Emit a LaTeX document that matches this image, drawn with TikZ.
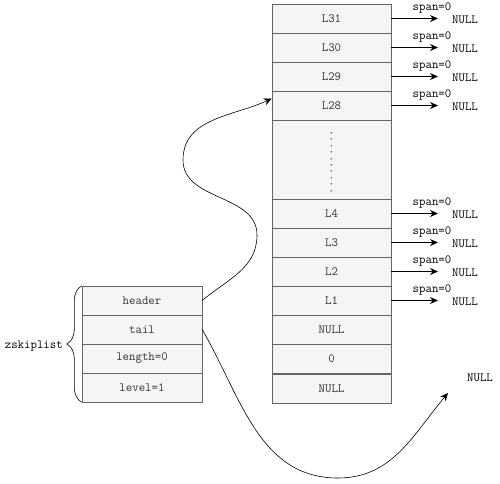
\documentclass[tikz,border=0pt]{standalone}
\usepackage{fontspec}
\usetikzlibrary{arrows.meta, positioning, decorations.pathreplacing}
\definecolor{cellfill}{HTML}{F5F5F5}
\definecolor{cellline}{HTML}{666666}
\definecolor{celltext}{HTML}{333333}

\begin{document}
\begin{tikzpicture}[x=1pt, y=-1pt,
  cell/.style={draw=cellline, fill=cellfill, minimum width=119pt,
    minimum height=29pt, inner sep=0pt, text=celltext,
    font=\fontsize{12.5}{14}\selectfont\ttfamily},
  lbl/.style={inner sep=0pt, font=\fontsize{12.5}{14}\selectfont\ttfamily},
  arr/.style={-{Stealth[length=8pt, width=7pt]}, line width=0.8pt},
  link/.style={arr, line width=0.6pt}
]
  \useasboundingbox (0,0) rectangle (500,483);

  % zskiplist struct
  \node[cell, minimum width=120pt] (hdr) at (142, 300.5) {header};
  \node[cell, minimum width=120pt] (tl)  at (142, 329.5) {tail};
  \node[cell, minimum width=120pt] (len) at (142, 358.5) {length=0};
  \node[cell, minimum width=120pt] (lvl) at (142, 387.5) {level=1};

  % brace and name
  \draw[decorate, decoration={brace, amplitude=15pt}, line width=0.6pt]
    (lvl.south west) -- (hdr.north west);
  \node[lbl, anchor=east] (zsl) at (63, 346) {zskiplist};

  % header node levels
  \node[cell] (l31) at (331.5, 18.5)  {L31};
  \node[cell] (l30) at (331.5, 47.5)  {L30};
  \node[cell] (l29) at (331.5, 76.5)  {L29};
  \node[cell] (l28) at (331.5, 105.5) {L28};
  \node[cell, minimum height=79pt] (ldots) at (331.5, 159.5) {};
  \node[lbl, rotate=90, text=celltext] (vdots) at (331.5, 162) {..........};
  \node[cell] (l4)  at (331.5, 213.5) {L4};
  \node[cell] (l3)  at (331.5, 242.5) {L3};
  \node[cell] (l2)  at (331.5, 271.5) {L2};
  \node[cell] (l1)  at (331.5, 300.5) {L1};
  \node[cell] (bw)  at (331.5, 329.5) {NULL};
  \node[cell] (sc)  at (331.5, 358.5) {0};
  \node[cell] (ob)  at (331.5, 388.5) {NULL};

  % level pointers
  \coordinate (tip) at (438, 0);
  \draw[arr] (l31.east) -- (l31.east -| tip);
  \draw[arr] (l30.east) -- (l30.east -| tip);
  \draw[arr] (l29.east) -- (l29.east -| tip);
  \draw[arr] (l28.east) -- (l28.east -| tip);
  \draw[arr] (l4.east) -- (l4.east -| tip);
  \draw[arr] (l3.east) -- (l3.east -| tip);
  \draw[arr] (l2.east) -- (l2.east -| tip);
  \draw[arr] (l1.east) -- (l1.east -| tip);

  % spans
  \node[lbl] (s31) at (432, 8)   {span=0};
  \node[lbl] (n31) at (465, 20)  {NULL};
  \node[lbl] (s30) at (432, 37)  {span=0};
  \node[lbl] (n30) at (465, 49)  {NULL};
  \node[lbl] (s29) at (432, 66)  {span=0};
  \node[lbl] (n29) at (465, 78)  {NULL};
  \node[lbl] (s28) at (432, 95)  {span=0};
  \node[lbl] (n28) at (465, 107) {NULL};
  \node[lbl] (s4)  at (432, 203) {span=0};
  \node[lbl] (n4)  at (465, 215) {NULL};
  \node[lbl] (s3)  at (432, 232) {span=0};
  \node[lbl] (n3)  at (465, 244) {NULL};
  \node[lbl] (s2)  at (432, 261) {span=0};
  \node[lbl] (n2)  at (465, 273) {NULL};
  \node[lbl] (s1)  at (432, 290) {span=0};
  \node[lbl] (n1)  at (465, 302) {NULL};

  % header and tail pointers
  \draw[link] (hdr.east) to[out=40, in=-90] (257, 235)
    to[out=90, in=-90] (183, 160)
    to[out=90, in=-155] ([yshift=7pt]l28.west);
  \node[lbl] (tnull) at (480, 378) {NULL};
  \coordinate (tend) at (448, 393);
  \draw[link] (tl.east) to[out=-60, in=180] (338, 478)
    to[out=0, in=-130] (tend);
\end{tikzpicture}
\end{document}
